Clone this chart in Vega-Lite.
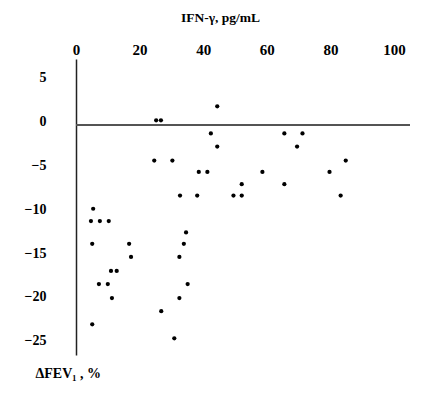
{
  "$schema": "https://vega.github.io/schema/vega-lite/v6.json",
  "width": 334,
  "height": 296,
  "autosize": {"type": "none"},
  "padding": {"left": 76, "top": 59, "right": 20, "bottom": 41},
  "background": "white",
  "config": {"view": {"stroke": null}, "font": "Liberation Serif"},
  "data": {
    "values": [
      {"ifn": 25.2, "fev": 0.5}, {"ifn": 26.7, "fev": 0.5}, {"ifn": 44.4, "fev": 2.1},
      {"ifn": 42.4, "fev": -1.0}, {"ifn": 65.5, "fev": -1.0}, {"ifn": 71.2, "fev": -1.0},
      {"ifn": 44.4, "fev": -2.5}, {"ifn": 69.5, "fev": -2.5},
      {"ifn": 24.6, "fev": -4.1}, {"ifn": 30.3, "fev": -4.1}, {"ifn": 84.8, "fev": -4.1},
      {"ifn": 38.6, "fev": -5.4}, {"ifn": 41.3, "fev": -5.4}, {"ifn": 58.6, "fev": -5.4}, {"ifn": 79.7, "fev": -5.4},
      {"ifn": 52.1, "fev": -6.8}, {"ifn": 65.5, "fev": -6.8},
      {"ifn": 32.7, "fev": -8.1}, {"ifn": 38.1, "fev": -8.1}, {"ifn": 49.5, "fev": -8.1}, {"ifn": 52.1, "fev": -8.1}, {"ifn": 83.2, "fev": -8.1},
      {"ifn": 5.4, "fev": -9.6},
      {"ifn": 4.7, "fev": -11.0}, {"ifn": 7.5, "fev": -11.0}, {"ifn": 10.3, "fev": -11.0},
      {"ifn": 34.6, "fev": -12.3},
      {"ifn": 5.1, "fev": -13.6}, {"ifn": 16.7, "fev": -13.6}, {"ifn": 33.9, "fev": -13.6},
      {"ifn": 17.3, "fev": -15.1}, {"ifn": 32.5, "fev": -15.1},
      {"ifn": 11.0, "fev": -16.7}, {"ifn": 12.8, "fev": -16.7},
      {"ifn": 7.2, "fev": -18.2}, {"ifn": 10.0, "fev": -18.2}, {"ifn": 35.1, "fev": -18.2},
      {"ifn": 11.3, "fev": -19.8}, {"ifn": 32.5, "fev": -19.8},
      {"ifn": 26.8, "fev": -21.3},
      {"ifn": 5.1, "fev": -22.8},
      {"ifn": 30.9, "fev": -24.4}
    ]
  },
  "layer": [
    {
      "mark": {"type": "rule", "color": "#555555", "strokeWidth": 1.5},
      "encoding": {
        "y": {"datum": 0, "type": "quantitative", "title": "ΔFEV₁ , %"}
      }
    },
    {
      "mark": {"type": "circle", "size": 18, "color": "black", "opacity": 1},
      "encoding": {
        "x": {
          "field": "ifn",
          "type": "quantitative",
          "title": "IFN-γ, pg/mL",
          "scale": {"domain": [0, 105], "nice": false, "zero": false},
          "axis": {
            "orient": "top",
            "values": [0, 20, 40, 60, 80, 100],
            "grid": false,
            "ticks": false,
            "domain": false,
            "labelPadding": 5,
            "labelBaseline": "alphabetic",
            "labelFont": "Liberation Serif",
            "labelFontWeight": "bold",
            "labelFontSize": 15,
            "labelColor": "black",
            "labelFlush": false,
            "titleX": 144,
            "titleY": -38,
            "titleAlign": "center",
            "titleBaseline": "alphabetic",
            "titleFont": "Liberation Serif",
            "titleFontWeight": "bold",
            "titleFontSize": 13.5,
            "titleColor": "black"
          }
        },
        "y": {
          "field": "fev",
          "type": "quantitative",
          "title": "ΔFEV₁ , %",
          "scale": {"domain": [-26.3, 7.5], "nice": false, "zero": false},
          "axis": {
            "values": [5, 0, -5, -10, -15, -20, -25],
            "grid": false,
            "ticks": false,
            "domain": true,
            "domainColor": "#222222",
            "domainWidth": 1.5,
            "labelPadding": 30,
            "labelOffset": -3,
            "labelFont": "Liberation Serif",
            "labelFontWeight": "bold",
            "labelFontSize": 14,
            "labelColor": "black",
            "labelFlush": false,
            "titleAngle": 0,
            "titleAlign": "left",
            "titleBaseline": "alphabetic",
            "titleX": -41,
            "titleY": 318,
            "titleFont": "Liberation Serif",
            "titleFontWeight": "bold",
            "titleFontSize": 14,
            "titleColor": "black"
          }
        }
      }
    }
  ]
}
